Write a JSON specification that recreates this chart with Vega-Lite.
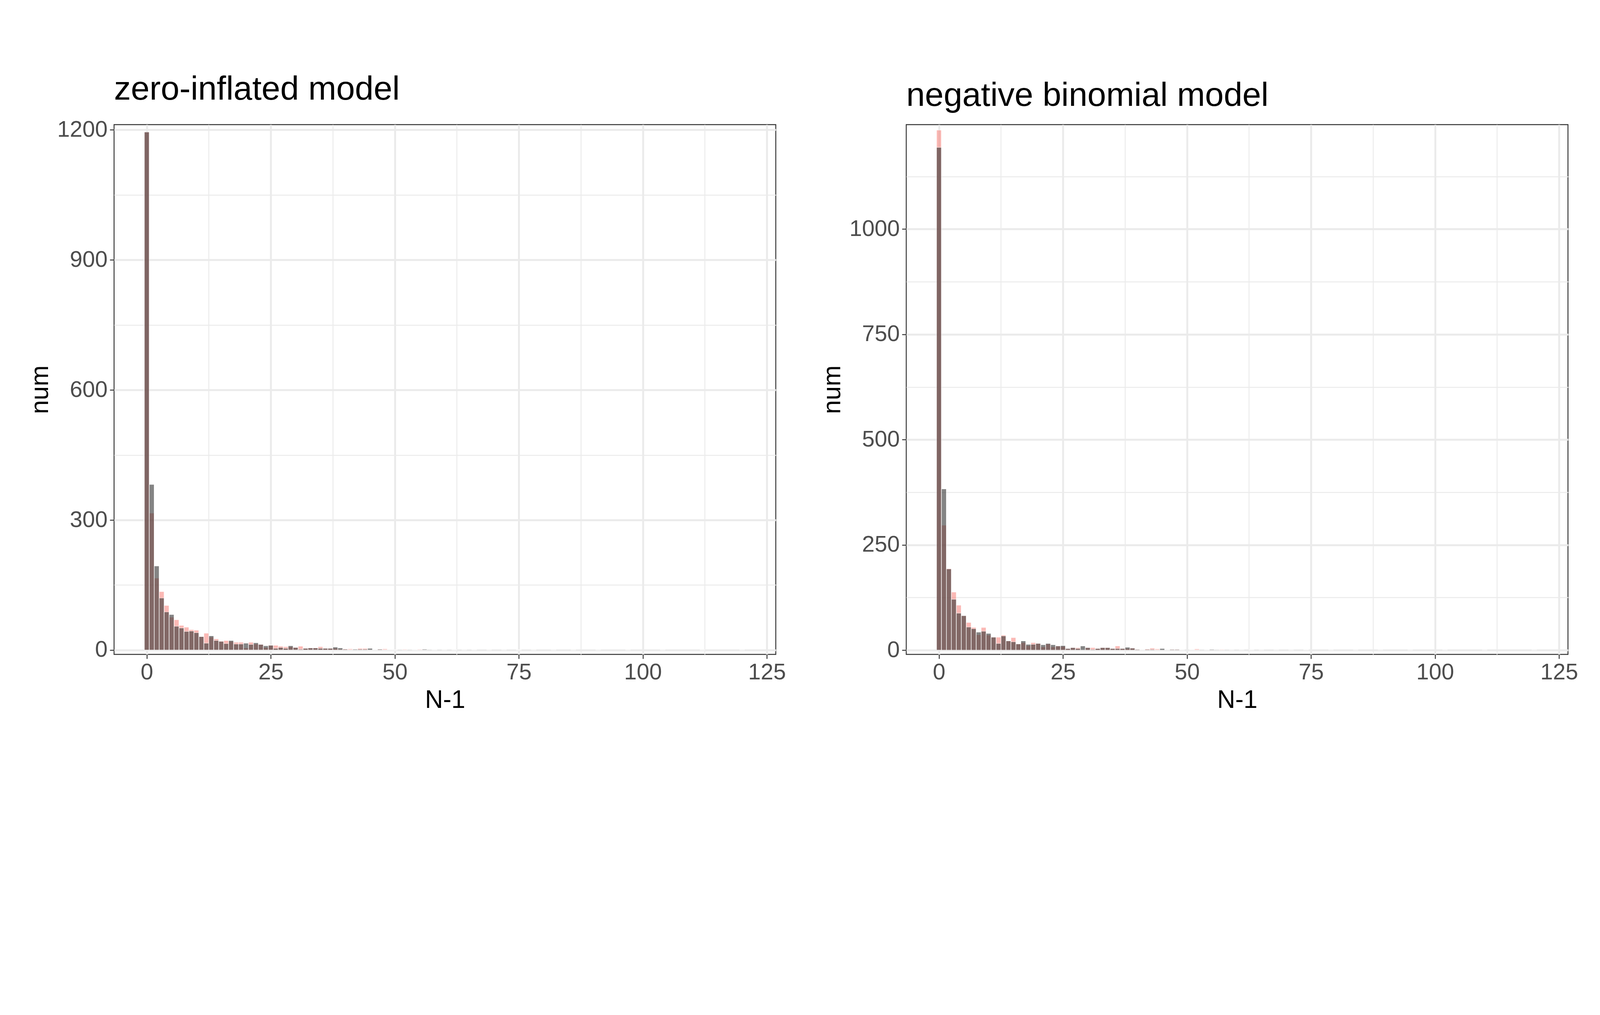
{
  "$schema": "https://vega.github.io/schema/vega-lite/v6.json",
  "background": "white",
  "padding": {"left": 70, "top": 185, "right": 20, "bottom": 20},
  "config": {
    "font": "Liberation Sans",
    "view": {"stroke": "#333333", "strokeWidth": 2.4},
    "title": {"fontSize": 86, "fontWeight": "normal", "color": "black", "anchor": "start", "frame": "group", "offset": 30},
    "axis": {
      "labelFontSize": 58, "labelColor": "#4D4D4D", "titleFontSize": 64, "titleFontWeight": "normal", "titleColor": "black",
      "domain": false, "tickColor": "#333333", "tickWidth": 2.4, "tickSize": 11, "labelPadding": 6, "titlePadding": 10, "gridColor": "#EBEBEB"
    }
  },
  "datasets": {
    "hist": [
      {"p":"L","n":0,"sim":1195,"obs":1195},{"p":"L","n":1,"sim":316,"obs":382},{"p":"L","n":2,"sim":166,"obs":194},{"p":"L","n":3,"sim":135,"obs":120},
      {"p":"L","n":4,"sim":103,"obs":88},{"p":"L","n":5,"sim":76,"obs":82},{"p":"L","n":6,"sim":70,"obs":55},{"p":"L","n":7,"sim":57,"obs":51},
      {"p":"L","n":8,"sim":53,"obs":43},{"p":"L","n":9,"sim":47,"obs":44},{"p":"L","n":10,"sim":46,"obs":40},{"p":"L","n":11,"sim":31,"obs":31},
      {"p":"L","n":12,"sim":39,"obs":16},{"p":"L","n":13,"sim":30,"obs":33},{"p":"L","n":14,"sim":26,"obs":22},{"p":"L","n":15,"sim":21,"obs":20},
      {"p":"L","n":16,"sim":22,"obs":15},{"p":"L","n":17,"sim":20,"obs":22},{"p":"L","n":18,"sim":18,"obs":14},{"p":"L","n":19,"sim":18,"obs":14},
      {"p":"L","n":20,"sim":5,"obs":16},{"p":"L","n":21,"sim":18,"obs":13},{"p":"L","n":22,"sim":14,"obs":17},{"p":"L","n":23,"sim":13,"obs":13},
      {"p":"L","n":24,"sim":6,"obs":10},{"p":"L","n":25,"sim":11,"obs":11},{"p":"L","n":26,"sim":11,"obs":4},{"p":"L","n":27,"sim":9,"obs":6},
      {"p":"L","n":28,"sim":8,"obs":4},{"p":"L","n":29,"sim":8,"obs":10},{"p":"L","n":30,"sim":6,"obs":6},{"p":"L","n":31,"sim":9,"obs":2},
      {"p":"L","n":32,"sim":4,"obs":4},{"p":"L","n":33,"sim":5,"obs":5},{"p":"L","n":34,"sim":5,"obs":5},{"p":"L","n":35,"sim":8,"obs":4},
      {"p":"L","n":36,"sim":4,"obs":4},{"p":"L","n":37,"sim":4,"obs":4},{"p":"L","n":38,"sim":4,"obs":7},{"p":"L","n":39,"sim":2,"obs":5},
      {"p":"L","n":40,"sim":3,"obs":2},{"p":"L","n":41,"sim":3,"obs":1},{"p":"L","n":42,"sim":1,"obs":2},{"p":"L","n":43,"sim":4,"obs":2},
      {"p":"L","n":44,"sim":4,"obs":2},{"p":"L","n":45,"sim":1,"obs":4},{"p":"L","n":46,"sim":1,"obs":1},{"p":"L","n":47,"sim":2,"obs":2},
      {"p":"L","n":48,"sim":3,"obs":1},{"p":"L","n":49,"sim":1,"obs":1},{"p":"L","n":50,"sim":1,"obs":1},{"p":"L","n":52,"sim":2,"obs":1},
      {"p":"L","n":54,"sim":1,"obs":1},{"p":"L","n":55,"sim":2,"obs":1},{"p":"L","n":56,"sim":1,"obs":2},{"p":"L","n":58,"sim":1,"obs":1},
      {"p":"L","n":60,"sim":1,"obs":0},{"p":"L","n":62,"sim":1,"obs":1},{"p":"L","n":64,"sim":0,"obs":1},{"p":"L","n":66,"sim":1,"obs":1},
      {"p":"L","n":69,"sim":1,"obs":0},{"p":"L","n":72,"sim":0,"obs":1},{"p":"L","n":75,"sim":1,"obs":1},{"p":"L","n":78,"sim":1,"obs":0},
      {"p":"L","n":82,"sim":0,"obs":1},{"p":"L","n":86,"sim":1,"obs":0},{"p":"L","n":91,"sim":0,"obs":1},{"p":"L","n":97,"sim":1,"obs":0},
      {"p":"L","n":104,"sim":0,"obs":1},{"p":"L","n":112,"sim":1,"obs":0},{"p":"L","n":120,"sim":0,"obs":1},
      {"p":"R","n":0,"sim":1235,"obs":1194},{"p":"R","n":1,"sim":297,"obs":383},{"p":"R","n":2,"sim":194,"obs":193},{"p":"R","n":3,"sim":138,"obs":121},
      {"p":"R","n":4,"sim":107,"obs":88},{"p":"R","n":5,"sim":82,"obs":82},{"p":"R","n":6,"sim":66,"obs":55},{"p":"R","n":7,"sim":54,"obs":51},
      {"p":"R","n":8,"sim":37,"obs":43},{"p":"R","n":9,"sim":54,"obs":45},{"p":"R","n":10,"sim":36,"obs":40},{"p":"R","n":11,"sim":31,"obs":31},
      {"p":"R","n":12,"sim":31,"obs":16},{"p":"R","n":13,"sim":36,"obs":34},{"p":"R","n":14,"sim":22,"obs":22},{"p":"R","n":15,"sim":30,"obs":20},
      {"p":"R","n":16,"sim":15,"obs":15},{"p":"R","n":17,"sim":18,"obs":22},{"p":"R","n":18,"sim":11,"obs":14},{"p":"R","n":19,"sim":18,"obs":14},
      {"p":"R","n":20,"sim":16,"obs":16},{"p":"R","n":21,"sim":8,"obs":13},{"p":"R","n":22,"sim":15,"obs":16},{"p":"R","n":23,"sim":8,"obs":13},
      {"p":"R","n":24,"sim":10,"obs":10},{"p":"R","n":25,"sim":9,"obs":11},{"p":"R","n":26,"sim":4,"obs":4},{"p":"R","n":27,"sim":6,"obs":6},
      {"p":"R","n":28,"sim":6,"obs":4},{"p":"R","n":29,"sim":1,"obs":10},{"p":"R","n":30,"sim":6,"obs":6},{"p":"R","n":31,"sim":6,"obs":2},
      {"p":"R","n":32,"sim":4,"obs":4},{"p":"R","n":33,"sim":6,"obs":6},{"p":"R","n":34,"sim":6,"obs":6},{"p":"R","n":35,"sim":4,"obs":4},
      {"p":"R","n":36,"sim":10,"obs":4},{"p":"R","n":37,"sim":4,"obs":4},{"p":"R","n":38,"sim":4,"obs":7},{"p":"R","n":39,"sim":5,"obs":5},
      {"p":"R","n":40,"sim":2,"obs":2},{"p":"R","n":41,"sim":1,"obs":1},{"p":"R","n":42,"sim":3,"obs":2},{"p":"R","n":43,"sim":5,"obs":2},
      {"p":"R","n":44,"sim":3,"obs":1},{"p":"R","n":45,"sim":1,"obs":4},{"p":"R","n":46,"sim":1,"obs":1},{"p":"R","n":47,"sim":2,"obs":2},
      {"p":"R","n":48,"sim":2,"obs":2},{"p":"R","n":49,"sim":1,"obs":1},{"p":"R","n":51,"sim":1,"obs":1},{"p":"R","n":52,"sim":3,"obs":1},
      {"p":"R","n":54,"sim":1,"obs":1},{"p":"R","n":55,"sim":1,"obs":2},{"p":"R","n":57,"sim":2,"obs":1},{"p":"R","n":59,"sim":1,"obs":0},
      {"p":"R","n":61,"sim":0,"obs":1},{"p":"R","n":63,"sim":1,"obs":1},{"p":"R","n":65,"sim":1,"obs":0},{"p":"R","n":68,"sim":0,"obs":1},
      {"p":"R","n":71,"sim":1,"obs":0},{"p":"R","n":74,"sim":1,"obs":1},{"p":"R","n":79,"sim":0,"obs":1},{"p":"R","n":84,"sim":1,"obs":0},
      {"p":"R","n":89,"sim":0,"obs":1},{"p":"R","n":95,"sim":1,"obs":0},{"p":"R","n":102,"sim":0,"obs":1},{"p":"R","n":110,"sim":1,"obs":0},
      {"p":"R","n":120,"sim":0,"obs":1}
    ]
  },
  "data": {"name": "hist"},
  "spacing": 85,
  "hconcat": [
    {
      "title": "zero-inflated model",
      "width": 1694, "height": 1356,
      "transform": [{"filter": "datum.p == 'L'"}],
      "encoding": {
        "x": {"field": "n", "type": "quantitative", "title": "N-1",
          "scale": {"domain": [-6.2, 126.4], "nice": false, "zero": false},
          "axis": {"values": [0, 12.5, 25, 37.5, 50, 62.5, 75, 87.5, 100, 112.5, 125],
            "labelExpr": "datum.value % 25 === 0 ? datum.label : ''",
            "tickOpacity": {"condition": {"test": "datum.value % 25 === 0", "value": 1}, "value": 0},
            "gridWidth": {"condition": {"test": "datum.value % 25 === 0", "value": 5}, "value": 2.4}}}
      },
      "layer": [
        {"mark": {"type": "bar", "size": 12.5, "color": "#F8766D", "opacity": 0.5, "stroke": "white", "strokeWidth": 1.2},
         "encoding": {"y": {"field": "sim", "type": "quantitative", "title": "num",
           "scale": {"domain": [-10, 1212], "nice": false, "zero": false},
           "axis": {"format": "d", "values": [0, 150, 300, 450, 600, 750, 900, 1050, 1200],
             "labelExpr": "datum.value % 300 === 0 ? datum.label : ''",
             "tickOpacity": {"condition": {"test": "datum.value % 300 === 0", "value": 1}, "value": 0},
             "gridWidth": {"condition": {"test": "datum.value % 300 === 0", "value": 5}, "value": 2.4}}}}},
        {"mark": {"type": "bar", "size": 12.5, "color": "#333333", "opacity": 0.6, "stroke": "white", "strokeWidth": 1.2},
         "encoding": {"y": {"field": "obs", "type": "quantitative"}}}
      ]
    },
    {
      "title": "negative binomial model",
      "width": 1694, "height": 1356,
      "transform": [{"filter": "datum.p == 'R'"}],
      "encoding": {
        "x": {"field": "n", "type": "quantitative", "title": "N-1",
          "scale": {"domain": [-6.2, 126.4], "nice": false, "zero": false},
          "axis": {"values": [0, 12.5, 25, 37.5, 50, 62.5, 75, 87.5, 100, 112.5, 125],
            "labelExpr": "datum.value % 25 === 0 ? datum.label : ''",
            "tickOpacity": {"condition": {"test": "datum.value % 25 === 0", "value": 1}, "value": 0},
            "gridWidth": {"condition": {"test": "datum.value % 25 === 0", "value": 5}, "value": 2.4}}}
      },
      "layer": [
        {"mark": {"type": "bar", "size": 12.5, "color": "#F8766D", "opacity": 0.5, "stroke": "white", "strokeWidth": 1.2},
         "encoding": {"y": {"field": "sim", "type": "quantitative", "title": "num",
           "scale": {"domain": [-10, 1248], "nice": false, "zero": false},
           "axis": {"format": "d", "values": [0, 125, 250, 375, 500, 625, 750, 875, 1000, 1125],
             "labelExpr": "datum.value % 250 === 0 ? datum.label : ''",
             "tickOpacity": {"condition": {"test": "datum.value % 250 === 0", "value": 1}, "value": 0},
             "gridWidth": {"condition": {"test": "datum.value % 250 === 0", "value": 5}, "value": 2.4}}}}},
        {"mark": {"type": "bar", "size": 12.5, "color": "#333333", "opacity": 0.6, "stroke": "white", "strokeWidth": 1.2},
         "encoding": {"y": {"field": "obs", "type": "quantitative"}}}
      ]
    }
  ]
}
